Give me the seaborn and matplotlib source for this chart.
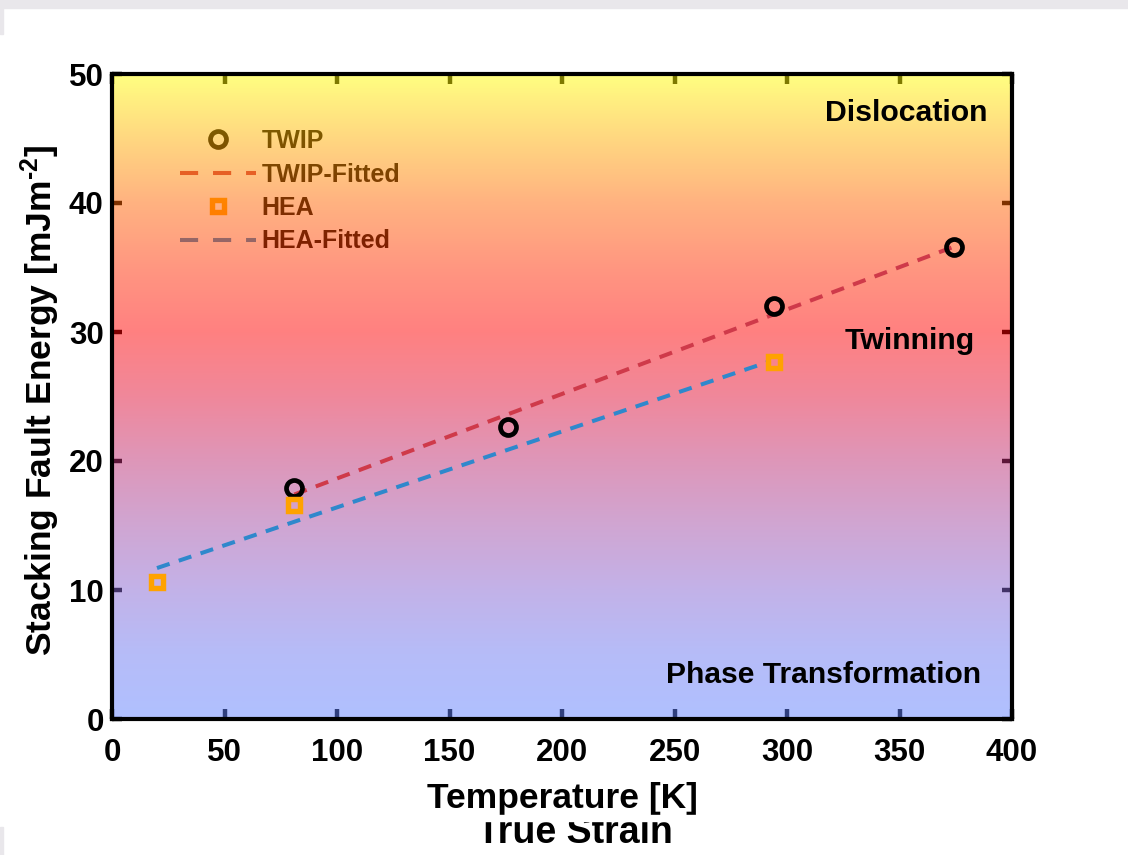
import numpy as np
import matplotlib
matplotlib.use("Agg")
import matplotlib.pyplot as plt
import seaborn as sns
from matplotlib.colors import LinearSegmentedColormap, to_rgb
from matplotlib.lines import Line2D
from matplotlib.patches import Rectangle

# ---------------- data ----------------
twip_T = [81, 176, 294, 374]
twip_sfe = [17.9, 22.6, 32.0, 36.6]
hea_T = [20, 81, 294]
hea_sfe = [10.6, 16.6, 27.7]
twip_fit_T = [81, 374]
twip_fit_sfe = [17.4, 36.6]
hea_fit_T = [20, 292]
hea_fit_sfe = [11.7, 27.7]
x_ticks = [0, 50, 100, 150, 200, 250, 300, 350, 400]
y_ticks = [0, 10, 20, 30, 40, 50]
region_labels = ["Dislocation", "Twinning", "Phase Transformation"]
legend_labels = ["TWIP", "TWIP-Fitted", "HEA", "HEA-Fitted"]

# background gradient stops (SFE level -> pastel colour)
bg_levels = [0, 5, 10, 15, 20, 25, 30, 35, 40, 45, 50]
bg_colors = ["#b0c0ff", "#b6bcf8", "#c3b2e8", "#d0a5d2", "#de96b9", "#f0879a",
             "#ff8080", "#ff9680", "#ffb280", "#ffd780", "#ffff80"]

# ---------------- style ----------------
sns.set_theme(style="white")
plt.rcParams["font.family"] = ["Liberation Sans", "DejaVu Sans"]
plt.rcParams["font.weight"] = "bold"
plt.rcParams["mathtext.fontset"] = "custom"
plt.rcParams["mathtext.rm"] = "Liberation Sans:bold"
plt.rcParams["mathtext.default"] = "rm"

RED = "#cf3a4a"
BLUE = "#2f88cc"
ORANGE = "#ffa200"

fig = plt.figure(figsize=(11.28, 8.55), dpi=100)
ax = fig.add_axes([112 / 1128, 136 / 855, 900 / 1128, 645 / 855])
ax.set_facecolor("white")

# gradient background drawn semi-transparent over ticks & legend
stops = []
for lv, c in zip(bg_levels, bg_colors):
    r, g, b = to_rgb(c)
    sat = tuple(min(1, max(0, 2 * v - 1)) for v in (r, g, b))
    stops.append((lv / 50.0, sat))
cmap = LinearSegmentedColormap.from_list("sfe_bg", stops)
grad = np.linspace(0, 1, 512).reshape(-1, 1)
ax.imshow(grad, origin="lower", extent=(0, 400, 0, 50), aspect="auto",
          cmap=cmap, alpha=0.5, zorder=2.6, interpolation="bilinear")

# fitted lines
sns.lineplot(x=twip_fit_T, y=twip_fit_sfe, ax=ax, color=RED, lw=2.9,
             linestyle=(0, (3.3, 2.4)), errorbar=None, zorder=3)
sns.lineplot(x=hea_fit_T, y=hea_fit_sfe, ax=ax, color=BLUE, lw=2.9,
             linestyle=(0, (3.3, 2.4)), errorbar=None, zorder=3)
# data points
sns.lineplot(x=twip_T, y=twip_sfe, ax=ax, linestyle="none", marker="o",
             markersize=11.5, markeredgewidth=3.4, markerfacecolor="none",
             markeredgecolor="black", color="black", errorbar=None, zorder=4)
sns.lineplot(x=hea_T, y=hea_sfe, ax=ax, linestyle="none", marker="s",
             markersize=9, markeredgewidth=3.9, markerfacecolor="none",
             markeredgecolor=ORANGE, color=ORANGE, errorbar=None, zorder=4)

ax.set_xlim(0, 400)
ax.set_ylim(0, 50)
ax.set_xticks(x_ticks)
ax.set_yticks(y_ticks)
ax.tick_params(axis="both", which="major", direction="in", length=7, width=3.2,
               color="black", top=True, right=True, bottom=True, left=True,
               labelsize=22.5, labelcolor="black")
ax.tick_params(axis="x", pad=14)
ax.tick_params(axis="y", pad=6)
ax.xaxis.set_zorder(2.2)
ax.yaxis.set_zorder(2.2)
for s in ax.spines.values():
    s.set_visible(True)
    s.set_linewidth(3)
    s.set_color("black")
    s.set_zorder(6)

ax.set_xlabel("Temperature [K]", fontsize=25.5, fontweight="bold", color="black")
ax.set_ylabel("Stacking Fault Energy [mJm$^{\u2010 2}$]", fontsize=25.5,
              fontweight="bold", color="black")
ax.xaxis.set_label_coords(0.5, -0.097)
ax.yaxis.set_label_coords(-0.056, 0.493)

# region labels
ax.text(389, 47.0, region_labels[0], ha="right", va="center", fontsize=21.8,
        fontweight="bold", color="black", zorder=7)
ax.text(383.5, 29.3, region_labels[1], ha="right", va="center", fontsize=21.8,
        fontweight="bold", color="black", zorder=7)
ax.text(386.5, 3.4, region_labels[2], ha="right", va="center", fontsize=21.6,
        fontweight="bold", color="black", zorder=7)

# legend (drawn under the translucent background)
handles = [
    Line2D([], [], linestyle="none", marker="o", markersize=11.5,
           markeredgewidth=3.4, markerfacecolor="none", markeredgecolor="black"),
    Line2D([], [], color=RED, lw=2.9, linestyle=(0, (4.5, 3.7))),
    Line2D([], [], linestyle="none", marker="s", markersize=9,
           markeredgewidth=3.9, markerfacecolor="none", markeredgecolor=ORANGE),
    Line2D([], [], color=BLUE, lw=2.9, linestyle=(0, (4.5, 3.7))),
]
leg = ax.legend(handles, legend_labels, loc="upper left",
                bbox_to_anchor=((180 - 112) / 900, (719 - 129) / 645),
                frameon=False, prop={"size": 18, "weight": "bold"},
                handlelength=3.05, handletextpad=0.2, labelspacing=0.38,
                borderpad=0, borderaxespad=0)
for t in leg.get_texts():
    t.set_color("black")
leg.set_zorder(2.3)

# screenshot artefacts around the figure
fig.add_artist(Rectangle((0, 1 - 8 / 855), 1, 8 / 855, transform=fig.transFigure,
                         color="#e9e7eb", zorder=0))
fig.add_artist(Rectangle((0, 1 - 34 / 855), 3 / 1128, 26 / 855,
                         transform=fig.transFigure, color="#e9e7eb", zorder=0))
fig.add_artist(Rectangle((0, 0), 3 / 1128, 28 / 855, transform=fig.transFigure,
                         color="#e9e7eb", zorder=0))
fig.text(575 / 1128, 12 / 855, "True Strain", ha="center", va="baseline",
         fontsize=27, fontweight="bold", color="black", zorder=1)
fig.add_artist(Rectangle((0.3, 34 / 855), 0.4, 6 / 855, transform=fig.transFigure,
                         color="white", zorder=2))

fig.savefig("out.png", dpi=100)
